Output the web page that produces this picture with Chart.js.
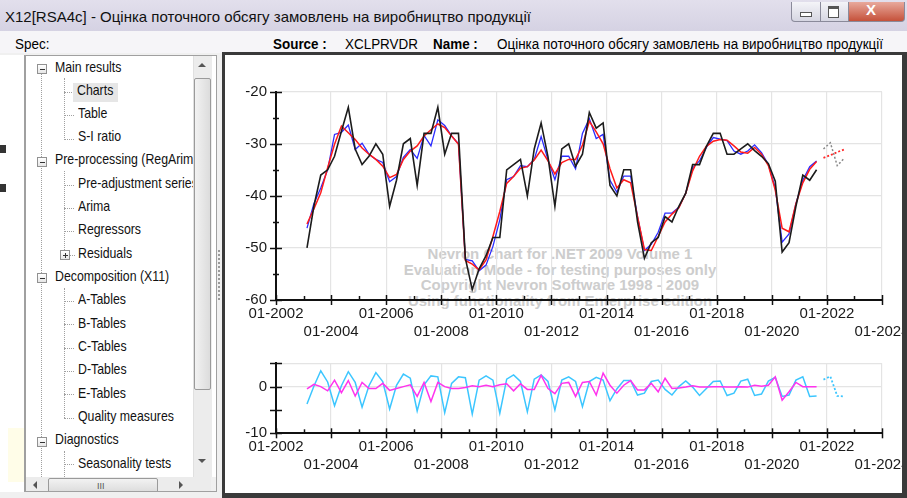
<!DOCTYPE html>
<html>
<head>
<meta charset="utf-8">
<script src="https://cdn.jsdelivr.net/npm/chart.js@4.4.1/dist/chart.umd.min.js"></script>
<style>
  html, body { margin: 0; padding: 0; }
  body { width: 907px; height: 498px; overflow: hidden; position: relative; background: #f0f0f0;
         font-family: "Liberation Sans", Arial, sans-serif; color: #000; }
  .abs { position: absolute; }
  .titlebar { left: 0; top: 0; width: 907px; height: 31px; background: linear-gradient(#e2dfec, #d5d2e3); }
  .title { left: 5px; top: 8px; font-size: 15px; white-space: nowrap; transform: scaleX(1.0); transform-origin: left; color: #111; }
  .wbtn { top: 2px; height: 19px; border: 1px solid #8a8a9a; border-top: none; background: linear-gradient(#f4f4f8, #d6d6e2); }
  .infobar { left: 0; top: 31px; width: 907px; height: 22px; background: #f6f5f8; }
  .info { top: 36px; font-size: 14px; white-space: nowrap; transform: scaleX(0.96); transform-origin: left; }
  .b { font-weight: bold; }
  .tree { left: 25px; top: 55px; width: 192px; height: 437px; background: #fff; border: 1px solid #a0a0a0; box-sizing: border-box; overflow: hidden; }
  .item { position: absolute; font-size: 14.5px; white-space: nowrap; transform: scaleX(0.85); transform-origin: left; color: #111; }
  .pm { position: absolute; width: 8px; height: 8px; border: 1px solid #919191; background: linear-gradient(#fff, #e6e6e6); }
  .pm::after { content: ""; position: absolute; left: 2px; top: 4px; width: 5px; height: 1px; background: #333; }
  .pm.plus::before { content: ""; position: absolute; left: 4px; top: 2px; width: 1px; height: 5px; background: #333; }
  .vdot { position: absolute; width: 0; border-left: 1px dotted #a0a0a0; }
  .hdot { position: absolute; height: 0; border-top: 1px dotted #a0a0a0; }
  .panel { left: 222px; top: 52px; width: 685px; height: 446px; background: #3a3a3a; }
  .inner { left: 225px; top: 55px; width: 677px; height: 438px; background: #fff; overflow: hidden; }
  .wm { left: 172px; top: 191px; width: 326px; text-align: center; font-weight: bold; font-size: 15px;
        line-height: 15.6px; color: #cdcdcd; white-space: nowrap; }
  canvas { position: absolute; }
</style>
</head>
<body>
<div class="abs titlebar"></div>
<div class="abs title">X12[RSA4c] - Оцінка поточного обсягу замовлень на виробництво продукції</div>
<div class="abs wbtn" style="left:791px;width:28px;border-radius:0 0 0 4px;"></div>
<div class="abs" style="left:800px;top:12px;width:10px;height:3px;background:#fff;border:1px solid #555;"></div>
<div class="abs wbtn" style="left:820px;width:27px;"></div>
<div class="abs" style="left:828px;top:6px;width:9px;height:8px;border:1px solid #555;border-top:3px solid #555;background:#fff;"></div>
<div class="abs wbtn" style="left:848px;width:55px;border-radius:0 0 4px 0;background:linear-gradient(#e8a99c,#c5513a);"></div>
<div class="abs" style="left:866px;top:1px;font-size:15px;font-weight:bold;color:#fff;">X</div>

<div class="abs infobar"></div>
<div class="abs info" style="left:15px;">Spec:</div>
<div class="abs info b" style="left:273px;">Source :</div>
<div class="abs info" style="left:345px;">XCLPRVDR</div>
<div class="abs info b" style="left:433px;">Name :</div>
<div class="abs info" style="left:497px;">Оцінка поточного обсягу замовлень на виробництво продукції</div>

<!-- left strip of the neighbouring panel -->
<div class="abs" style="left:0;top:55px;width:24px;height:437px;background:#fff;border-right:1px solid #a0a0a0;"></div>
<div class="abs" style="left:0;top:145px;width:6px;height:8px;background:#333;"></div>
<div class="abs" style="left:0;top:184px;width:6px;height:8px;background:#333;"></div>
<div class="abs" style="left:8px;top:428px;width:16px;height:54px;background:#fffde8;"></div>

<div class="abs tree">
  <div class="vdot" style="left:15px;top:17px;height:420px;"></div>
  <div class="pm" style="left:11px;top:8px;"></div>
  <div class="item" style="left:29px;top:3px;">Main results</div>
  <div class="vdot" style="left:38px;top:22px;height:62px;"></div>
  <div class="hdot" style="left:38px;top:36px;width:10px;"></div>
  <div class="abs" style="left:47px;top:27px;width:45px;height:19px;background:#e6e6e6;"></div>
  <div class="item" style="left:51px;top:26px;">Charts</div>
  <div class="hdot" style="left:38px;top:59px;width:10px;"></div>
  <div class="item" style="left:52px;top:49px;">Table</div>
  <div class="hdot" style="left:38px;top:83px;width:10px;"></div>
  <div class="item" style="left:52px;top:72px;">S-I ratio</div>
  <div class="pm" style="left:11px;top:101px;"></div>
  <div class="item" style="left:29px;top:95px;">Pre-processing (RegArima)</div>
  <div class="vdot" style="left:38px;top:115px;height:85px;"></div>
  <div class="hdot" style="left:38px;top:129px;width:10px;"></div>
  <div class="item" style="left:52px;top:119px;">Pre-adjustment series</div>
  <div class="hdot" style="left:38px;top:152px;width:10px;"></div>
  <div class="item" style="left:52px;top:142px;">Arima</div>
  <div class="hdot" style="left:38px;top:175px;width:10px;"></div>
  <div class="item" style="left:52px;top:165px;">Regressors</div>
  <div class="pm plus" style="left:34px;top:194px;"></div>
  <div class="hdot" style="left:44px;top:199px;width:5px;"></div>
  <div class="item" style="left:52px;top:189px;">Residuals</div>
  <div class="pm" style="left:11px;top:217px;"></div>
  <div class="item" style="left:29px;top:212px;">Decomposition (X11)</div>
  <div class="vdot" style="left:38px;top:232px;height:130px;"></div>
  <div class="hdot" style="left:38px;top:245px;width:10px;"></div>
  <div class="item" style="left:52px;top:235px;">A-Tables</div>
  <div class="hdot" style="left:38px;top:268px;width:10px;"></div>
  <div class="item" style="left:52px;top:259px;">B-Tables</div>
  <div class="hdot" style="left:38px;top:292px;width:10px;"></div>
  <div class="item" style="left:52px;top:282px;">C-Tables</div>
  <div class="hdot" style="left:38px;top:315px;width:10px;"></div>
  <div class="item" style="left:52px;top:305px;">D-Tables</div>
  <div class="hdot" style="left:38px;top:338px;width:10px;"></div>
  <div class="item" style="left:52px;top:329px;">E-Tables</div>
  <div class="hdot" style="left:38px;top:362px;width:10px;"></div>
  <div class="item" style="left:52px;top:352px;">Quality measures</div>
  <div class="pm" style="left:11px;top:381px;"></div>
  <div class="item" style="left:29px;top:375px;">Diagnostics</div>
  <div class="vdot" style="left:38px;top:395px;height:40px;"></div>
  <div class="hdot" style="left:38px;top:408px;width:10px;"></div>
  <div class="item" style="left:52px;top:399px;">Seasonality tests</div>
  <!-- vertical scrollbar -->
  <div class="abs" style="left:167px;top:0;width:18px;height:421px;background:#ececec;border-left:1px solid #e0e0e0;"></div>
  <div class="abs" style="left:172px;top:7px;width:0;height:0;border-left:4px solid transparent;border-right:4px solid transparent;border-bottom:4px solid #555;"></div>
  <div class="abs" style="left:168px;top:22px;width:15px;height:310px;border:1px solid #9a9a9a;border-radius:2px;background:linear-gradient(90deg,#f2f2f2,#dcdcdc);"></div>
  <div class="abs" style="left:172px;top:403px;width:0;height:0;border-left:4px solid transparent;border-right:4px solid transparent;border-top:4px solid #555;"></div>
  <!-- horizontal scrollbar -->
  <div class="abs" style="left:0;top:421px;width:185px;height:16px;background:#ececec;"></div>
  <div class="abs" style="left:7px;top:425px;width:0;height:0;border-top:4px solid transparent;border-bottom:4px solid transparent;border-right:4px solid #555;"></div>
  <div class="abs" style="left:22px;top:422px;width:108px;height:13px;border:1px solid #9a9a9a;border-radius:2px;background:linear-gradient(#f2f2f2,#dcdcdc);"></div>
  <div class="abs" style="left:71px;top:425px;font-size:9px;color:#555;">III</div>
  <div class="abs" style="left:153px;top:425px;width:0;height:0;border-top:4px solid transparent;border-bottom:4px solid transparent;border-left:4px solid #555;"></div>
  <div class="abs" style="left:185px;top:421px;width:6px;height:16px;background:#f0f0f0;"></div>
</div>

<!-- splitter grip -->
<div class="abs" style="left:218px;top:250px;width:0;height:50px;border-left:2px dotted #9a9a9a;"></div>

<div class="abs panel"></div>
<div class="abs inner">
  <div class="abs wm">Nevron Chart for .NET 2009 Volume 1<br>Evaluation Mode - for testing purposes only<br>Copyright Nevron Software 1998 - 2009<br>Using functionality from Enterprise edition</div>
  <canvas id="top" width="720" height="290" style="left:0;top:5px;"></canvas>
  <canvas id="bottom" width="720" height="150" style="left:0;top:290px;"></canvas>
</div>

<script>
// Quarterly observations, 2003Q1 .. 2021Q3
const firstYear = 2003;
const periods = [];
for (let y = firstYear; y <= 2021; y++) for (let q = 1; q <= 4; q++) {
  if (y === 2021 && q === 4) break;
  periods.push(y + 'Q' + q);
}
const forecastPeriods = ['2021Q4', '2022Q1', '2022Q2', '2022Q3'];

// Original series
const original = [
  -50, -42, -36, -35,
  -32.4, -27.6, -23, -31,
  -34, -32.4, -30, -32,
  -42, -37, -30, -29,
  -38, -28, -28, -23,
  -32, -28, -28, -52,
  -58, -54, -51.5, -48,
  -48, -35, -34, -33,
  -40, -31, -26, -32.5,
  -42, -31, -30, -34.3,
  -32, -24, -27, -26,
  -38, -40, -35, -35,
  -45, -52, -49, -48,
  -44, -45, -42, -39.5,
  -34, -34, -30.5, -28,
  -28, -32, -32, -31,
  -30, -31.3, -32.4, -33.8,
  -37.2, -50.8, -49, -42,
  -36, -37, -35
];
// Seasonally adjusted series
const seasAdj = [
  -46.2, -41.5, -38.5, -35,
  -28.2, -27.8, -26.4, -31.1,
  -29.9, -32, -33, -33.6,
  -37.3, -36.3, -32.6, -31.1,
  -32.8, -28.4, -30.4, -25.4,
  -26.5, -28.5, -30, -52.2,
  -52.5, -54.4, -53.3, -49.7,
  -44.6, -36.9, -36.3, -34.2,
  -34.4, -33, -28.6, -33.1,
  -36.9, -32.4, -32.4, -34.8,
  -28, -25.2, -29, -28.2,
  -37, -39.3, -36.2, -36.2,
  -44, -50.5, -49.3, -47,
  -43.3, -43.3, -42.2, -39.5,
  -34.6, -33.3, -30.7, -28.8,
  -29.1, -29.4, -31.4, -32,
  -31.4, -30.2, -31.7, -34,
  -38.5, -48.9, -47.3, -41.5,
  -37, -34.4, -33.3
];
// Trend-cycle
const trend = [
  -45.4, -42.5, -39.4, -34.6,
  -30.1, -26.6, -27.9, -29.2,
  -30.8, -32, -33, -34.3,
  -36.5, -35.9, -33, -31.4,
  -30.4, -28.5, -27.3, -26.2,
  -26.9, -28.5, -30.1, -52.4,
  -53.1, -54.2, -52.3, -47.8,
  -43, -37.6, -36.3, -34.7,
  -34.4, -33.1, -31.2, -33.3,
  -35.8, -33.6, -33, -33,
  -30.3, -25.7, -27.7, -30,
  -34.8, -38.5, -36.9, -37.5,
  -44, -50.3, -50.5, -47.8,
  -45, -43.5, -42.3, -39.5,
  -35.2, -32.4, -30.5, -29.5,
  -29.2, -29.3, -30.4, -31.6,
  -31.8, -30.7, -32, -34.2,
  -38.9, -46.2, -46.9, -41.5,
  -37.5, -34.9, -33.4
];
// Seasonal component
const seasonal = [
  -3.7, 0.1, 3.4, 1.0,
  -4.1, 0.2, 3.2, 0.9,
  -4.4, 0.2, 3.0, 1.1,
  -4.8, 0.3, 2.7, 1.8,
  -5.2, 0.4, 2.3, 2.1,
  -5.6, 0.7, 2.1, 1.9,
  -5.9, 1.4, 2.3, 1.4,
  -5.7, 1.6, 2.5, 1.1,
  -5.4, 1.6, 2.5, 1.1,
  -5.0, 1.4, 2.1, 1.1,
  -4.3, 1.1, 2.0, 1.4,
  -3.0, -0.5, 1.3, 1.3,
  -1.8, -1.4, 1.1, 1.4,
  -0.6, -1.8, 0.0, 1.2,
  -0.1, -1.9, -0.4, 1.1,
  1.2, -1.9, -1.4, 1.2,
  1.6, -1.9, -1.6, 1.2,
  2.0, -2.1, -1.8, 1.4,
  2.1, -2.1, -2.0
];
// Irregular component
const irregular = [
  -0.5, 0.5, 0.0, -0.9,
  1.4, -1.3, 1.3, -2.0,
  0.9, -0.4, -0.4, 0.7,
  -0.8, -0.4, 0.0, 0.4,
  -2.1, 0.9, -3.2, 0.9,
  0.0, -0.4, -0.4, -0.2,
  0.2, 0.0, 0.3, 0.0,
  0.4, 0.6, -0.9, 0.6,
  -0.6, -0.6, 2.4, -0.4,
  -1.5, 0.7, 0.9, -2.1,
  0.9, 1.1, -1.8, 2.9,
  0.3, -1.4, 0.3, 1.3,
  -0.7, -0.7, 0.7, -1.1,
  1.8, -0.4, -0.3, -0.1,
  0.2, -0.1, -0.1, 0.0,
  0.0, -0.1, -0.1, 0.0,
  -0.1, 0.3, 0.1, 0.3,
  2.1, -2.9, -1.1, 0.9,
  0.0, 0.0, 0.0
];
// Forecasts
const originalForecast = [-31, -29.8, -34.2, -32.8];
const trendForecast = [-32.7, -32.2, -31.6, -31.1];
const seasonalForecast = [1.5, 2.2, -2.0, -2.1];

// Axis ranges and labels
const yearMin = 2002, yearMax = 2024;
const mainRange = [-60, -20];
const compRange = [-10, 5];

// a quarter is placed at the middle of its three months
function periodToYear(p) {
  const [y, q] = p.split('Q').map(Number);
  return y + (q - 1) / 4 + 0.125;
}
function pairs(per, vals) { return vals.map((v, i) => ({ x: periodToYear(per[i]), y: v })); }

// axis ticks that cross the axis lines
const crossTicks = {
  id: 'crossTicks',
  afterDatasetsDraw(chart, args, opts) {
    const { ctx, chartArea: a, scales: { x, y } } = chart;
    ctx.save();
    ctx.strokeStyle = '#111';
    ctx.lineWidth = 1.5;
    for (let v = yearMin; v <= yearMax; v++) {
      const px = Math.round(x.getPixelForValue(v)) + 0.5;
      const major = v % 2 === 0;
      ctx.beginPath();
      ctx.moveTo(px, a.bottom - (major ? 5 : 4));
      ctx.lineTo(px, a.bottom + (major ? 5 : 0));
      ctx.stroke();
    }
    for (let v = y.min; v <= y.max; v += opts.minor) {
      const py = Math.round(y.getPixelForValue(v)) + 0.5;
      const major = (v - y.min) % opts.major === 0 || v === y.max;
      ctx.beginPath();
      ctx.moveTo(a.left - (major ? 6 : 3), py);
      ctx.lineTo(a.left + (major ? 6 : 3), py);
      ctx.stroke();
    }
    ctx.restore();
  }
};

const tickFont = { family: '"Liberation Sans", Arial, sans-serif', size: 15, lineHeight: '18px' };

function xScale(height) {
  return {
    type: 'linear', min: yearMin, max: yearMax,
    afterFit: s => { s.height = height; },
    grid: { drawTicks: false, color: c => (c.tick.value > yearMin ? '#e4e4e4' : 'rgba(0,0,0,0)'), lineWidth: 1.2 },
    border: { color: '#111', width: 2 },
    ticks: {
      stepSize: 2, autoSkip: false, maxRotation: 0, minRotation: 0, padding: 5,
      color: '#1a1a1a', font: tickFont,
      callback: (v, i) => (i % 2 === 0 ? '01-' + v : ['', '01-' + v])
    }
  };
}
function yScale(range, step, gridAt, labelAt) {
  return {
    type: 'linear', min: range[0], max: range[1],
    afterFit: s => { s.width = 51; },
    grid: { drawTicks: false, color: c => (gridAt.includes(c.tick.value) ? '#e4e4e4' : 'rgba(0,0,0,0)'), lineWidth: 1.2 },
    border: { color: '#111', width: 2 },
    ticks: {
      stepSize: step, padding: 9, color: '#1a1a1a', font: tickFont,
      callback: v => (labelAt.includes(v) ? String(v) : '')
    }
  };
}
function line(data, color, width, dash) {
  return { data, borderColor: color, borderWidth: width, borderDash: dash || [], pointRadius: 0, tension: 0, fill: false };
}

Chart.defaults.animation = false;
Chart.defaults.responsive = false;
Chart.defaults.devicePixelRatio = 1;

new Chart(document.getElementById('top'), {
  type: 'line',
  data: {
    datasets: [
      line(pairs(periods, original), '#1c1c1c', 1.6),
      line(pairs(periods, trend), '#ff1a1a', 1.5),
      line(pairs(periods, seasAdj), '#2b2bff', 1.3),
      line(pairs(forecastPeriods, originalForecast), '#8a8a8a', 1.5, [2, 2]),
      line(pairs(forecastPeriods, trendForecast), '#ff2a2a', 1.8, [2, 2])
    ]
  },
  options: {
    layout: { padding: { left: 0, top: 31.7, right: 63, bottom: 0 } },
    plugins: { legend: { display: false }, tooltip: { enabled: false }, crossTicks: { minor: 5, major: 10 } },
    scales: {
      x: xScale(50),
      y: yScale(mainRange, 5, [-50, -40, -30, -20], [-60, -50, -40, -30, -20])
    }
  },
  plugins: [crossTicks]
});

new Chart(document.getElementById('bottom'), {
  type: 'line',
  data: {
    datasets: [
      line(pairs(periods, irregular), '#ff33ee', 1.5),
      line(pairs(periods, seasonal), '#3cc6ff', 1.5),
      line(pairs(forecastPeriods, seasonalForecast), '#3cc6ff', 1.8, [2, 2])
    ]
  },
  options: {
    layout: { padding: { left: 0, top: 18.3, right: 63, bottom: 0 } },
    plugins: { legend: { display: false }, tooltip: { enabled: false }, crossTicks: { minor: 5, major: 5 } },
    scales: {
      x: xScale(61.7),
      y: yScale(compRange, 5, [0, 5], [-10, 0])
    }
  },
  plugins: [crossTicks]
});
</script>
</body>
</html>
